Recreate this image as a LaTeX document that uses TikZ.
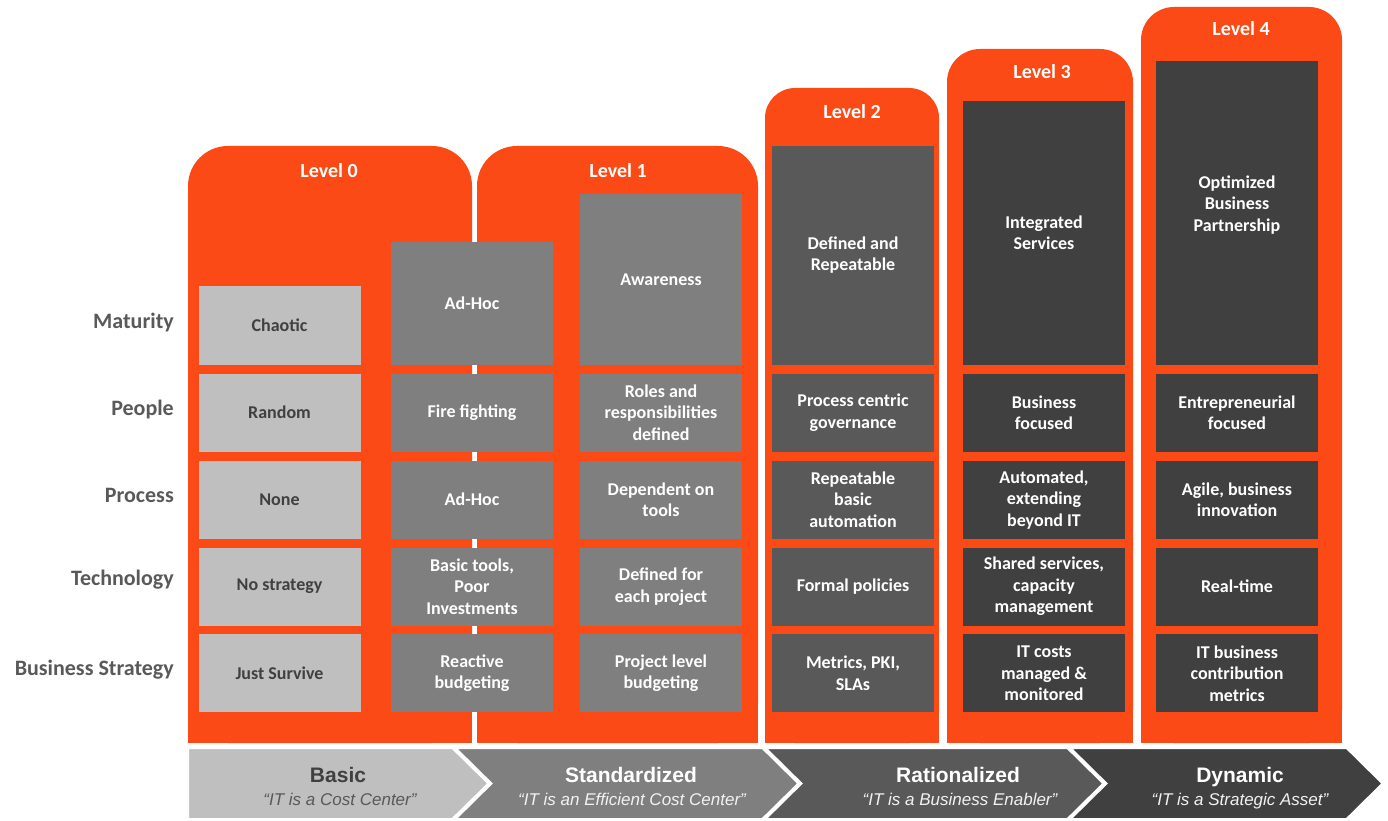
\documentclass[tikz,border=0pt]{standalone}
\usepackage{fontspec}
\setmainfont{Carlito}
\newfontfamily\arialfont{Liberation Sans}
\usetikzlibrary{positioning}

\definecolor{levelorange}{HTML}{FB4A15}
\definecolor{greyA}{HTML}{BFBFBF}
\definecolor{greyB}{HTML}{7F7F7F}
\definecolor{greyC}{HTML}{595959}
\definecolor{greyD}{HTML}{404040}

% orange level column: left, right, top, corner radius
\newcommand{\levelcolumn}[4]{%
  \fill[levelorange,rounded corners=#4] (#1,#3) rectangle (#2,743);
  \fill[levelorange] (#1,#3+#4+2) rectangle (#2,743);}

\begin{document}
\begin{tikzpicture}[x=1pt,y=-1pt,
  cell/.style={inner sep=2pt,minimum width=162pt,minimum height=78pt,align=center,
    text=white,font=\bfseries\fontsize{18}{21.5}\selectfont},
  lightcell/.style={cell,fill=greyA,text=greyD},
  midcell/.style={cell,fill=greyB},
  darkcell/.style={cell,fill=greyC},
  deepcell/.style={cell,fill=greyD},
  rowlabel/.style={anchor=east,inner sep=1pt,text=greyC,font=\bfseries\fontsize{22}{26}\selectfont},
  levelhead/.style={text=white,font=\bfseries\fontsize{20}{24}\selectfont},
  stage/.style={draw=white,line width=4pt,line join=miter},
  stagetitle/.style={anchor=base,font=\arialfont\bfseries\fontsize{21}{24}\selectfont},
  stagequote/.style={anchor=base,font=\arialfont\itshape\fontsize{17}{20}\selectfont},
  node distance=8.5pt
]
\useasboundingbox (0,0) rectangle (1388,821);

% level columns
\levelcolumn{188}{472}{146}{40}
\levelcolumn{477}{758}{146}{40}
\levelcolumn{765}{939}{88}{30}
\levelcolumn{947}{1133}{49}{33}
\levelcolumn{1141}{1342}{7}{33}
\node[levelhead] (lv0) at (329,171) {Level 0};
\node[levelhead] (lv1) at (618,171) {Level 1};
\node[levelhead] (lv2) at (852,112) {Level 2};
\node[levelhead] (lv3) at (1042,72) {Level 3};
\node[levelhead] (lv4) at (1241,29) {Level 4};

% row labels
\node[rowlabel] (maturity) at (175,323) {Maturity};
\node[rowlabel] (people) at (175,410) {People};
\node[rowlabel] (process) at (175,495) {Process};
\node[rowlabel] (technology) at (175,580) {Technology};
\node[rowlabel] (strategy) at (175,670) {Business Strategy};

% maturity boxes, growing with the level
\node[lightcell,minimum height=79pt,anchor=south] (mat0) at (279.5,365) {Chaotic};
\node[midcell,minimum height=123pt,anchor=south] (mat1) at (472,365) {Ad-Hoc};
\node[midcell,minimum height=171pt,anchor=south] (mat2) at (661,365) {Awareness};
\node[darkcell,minimum height=219pt,anchor=south] (mat3) at (853,365) {Defined and\\Repeatable};
\node[deepcell,minimum height=264pt,anchor=south] (mat4) at (1044,365) {Integrated\\Services};
\node[deepcell,minimum height=304pt,anchor=south,text depth=19pt] (mat5) at (1237,365) {Optimized\\Business\\Partnership};

% people
\node[lightcell,below=of mat0] (ppl0) {Random};
\node[midcell,below=of mat1] (ppl1) {Fire fighting};
\node[midcell,below=of mat2] (ppl2) {Roles and\\responsibilities\\defined};
\node[darkcell,below=of mat3] (ppl3) {Process centric\\governance};
\node[deepcell,below=of mat4] (ppl4) {Business\\focused};
\node[deepcell,below=of mat5] (ppl5) {Entrepreneurial\\focused};

% process
\node[lightcell,below=of ppl0] (proc0) {None};
\node[midcell,below=of ppl1] (proc1) {Ad-Hoc};
\node[midcell,below=of ppl2] (proc2) {Dependent on\\tools};
\node[darkcell,below=of ppl3] (proc3) {Repeatable\\basic\\automation};
\node[deepcell,below=of ppl4] (proc4) {Automated,\\extending\\beyond IT};
\node[deepcell,below=of ppl5] (proc5) {Agile, business\\innovation};

% technology
\node[lightcell,below=of proc0] (tech0) {No strategy};
\node[midcell,below=of proc1] (tech1) {Basic tools,\\Poor\\Investments};
\node[midcell,below=of proc2] (tech2) {Defined for\\each project};
\node[darkcell,below=of proc3] (tech3) {Formal policies};
\node[deepcell,below=of proc4] (tech4) {Shared services,\\capacity\\management};
\node[deepcell,below=of proc5] (tech5) {Real-time};

% business strategy
\node[lightcell,below=of tech0] (biz0) {Just Survive};
\node[midcell,below=of tech1] (biz1) {Reactive\\budgeting};
\node[midcell,below=of tech2] (biz2) {Project level\\budgeting};
\node[darkcell,below=of tech3] (biz3) {Metrics, PKI,\\SLAs};
\node[deepcell,below=of tech4] (biz4) {IT costs\\managed \&\\monitored};
\node[deepcell,below=of tech5] (biz5) {IT business\\contribution\\metrics};

% stage arrows along the bottom
\filldraw[stage,fill=greyA] (187,747) -- (453,747) -- (490,783.5) -- (453,820) -- (187,820) -- cycle;
\filldraw[stage,fill=greyB] (453,747) -- (763,747) -- (800,783.5) -- (763,820) -- (453,820) -- (490,783.5) -- cycle;
\filldraw[stage,fill=greyC] (763,747) -- (1068,747) -- (1105,783.5) -- (1068,820) -- (763,820) -- (800,783.5) -- cycle;
\filldraw[stage,fill=greyD] (1068,747) -- (1347,747) -- (1384,783.5) -- (1347,820) -- (1068,820) -- (1105,783.5) -- cycle;
\node[stagetitle,text=greyD] (basic) at (338,782) {Basic};
\node[stagequote,text=greyC] (basicq) at (340,805) {“IT is a Cost Center”};
\node[stagetitle,text=white] (standard) at (631,782) {Standardized};
\node[stagequote,text=white!95!black] (standardq) at (632,805) {“IT is an Efficient Cost Center”};
\node[stagetitle,text=white] (rational) at (958,782) {Rationalized};
\node[stagequote,text=white!95!black] (rationalq) at (960,805) {“IT is a Business Enabler”};
\node[stagetitle,text=white] (dynamic) at (1240,782) {Dynamic};
\node[stagequote,text=white!95!black] (dynamicq) at (1240,805) {“IT is a Strategic Asset”};
\end{tikzpicture}
\end{document}
